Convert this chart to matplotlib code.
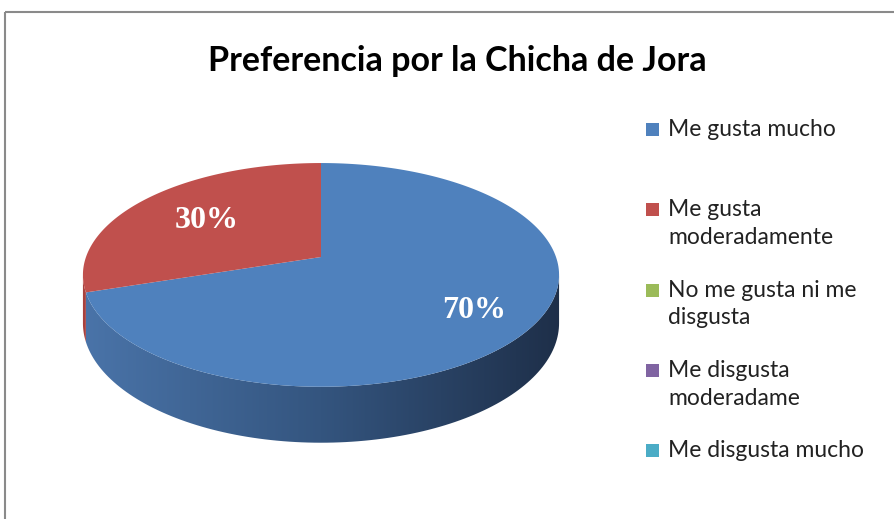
import numpy as np
import matplotlib
matplotlib.use('Agg')
from matplotlib import pyplot as plt
from matplotlib.patches import Polygon, Rectangle
from matplotlib.colors import LinearSegmentedColormap

title = 'Preferencia por la Chicha de Jora'
categories = ['Me gusta mucho', 'Me gusta moderadamente',
              'No me gusta ni me disgusta', 'Me disgusta moderadame',
              'Me disgusta mucho']
legend_labels = ['Me gusta mucho', 'Me gusta\nmoderadamente',
                 'No me gusta ni me\ndisgusta', 'Me disgusta\nmoderadame',
                 'Me disgusta mucho']
values = [70, 30, 0, 0, 0]
pct_labels = ['70%', '30%', '0%', '0%', '0%']
colors = ['#4F81BD', '#C0504D', '#9BBB59', '#8064A2', '#4BACC6']

# pie geometry (pixels), simple perspective tilt
CX, CY = 321, 257
RX, RY = 235, 109
K = 0.16
DEPTH = 47
LABEL_R = [0.75, 0.64, 0.7, 0.7, 0.7]


def project(t, r=1.0, drop=0.0):
    u = r * np.cos(t)
    v = r * np.sin(t)
    w = 1 + K * v
    return CX + RX * u / w, CY - RY * v / w + drop * DEPTH / w


def main():
    fig = plt.figure(figsize=(8.95, 5.19), dpi=100)
    ax = fig.add_axes([0, 0, 1, 1])
    ax.set_xlim(0, 895)
    ax.set_ylim(519, 0)
    ax.axis('off')

    ax.add_patch(Rectangle((5, 12), 900, 520, fill=False,
                           ec='#8a8a8a', lw=1.5))

    total = float(sum(values))
    starts, ends = [], []
    a = 90.0
    for v in values:
        starts.append(a)
        a -= 360.0 * v / total
        ends.append(a)

    side_cmap = LinearSegmentedColormap.from_list(
        'side', ['#4a74a9', '#34557f', '#1e2f49'])
    side_red = '#a8413e'
    vis_lo = -180 + np.degrees(np.arcsin(K))
    vis_hi = -np.degrees(np.arcsin(K))

    # sides first
    for i, v in enumerate(values):
        if v <= 0:
            continue
        lo = max(ends[i], vis_lo)
        hi = min(starts[i], vis_hi)
        if hi <= lo:
            continue
        t = np.radians(np.linspace(lo, hi, 120))
        xt, yt = project(t)
        xb, yb = project(t[::-1], drop=1.0)
        pts = np.column_stack([np.r_[xt, xb], np.r_[yt, yb]])
        if i == 0:
            poly = Polygon(pts, closed=True, fc='none', ec='none')
            ax.add_patch(poly)
            grad = np.linspace(0, 1, 256).reshape(1, -1)
            im = ax.imshow(grad, cmap=side_cmap, aspect='auto',
                           extent=(CX - RX - 5, CX + RX + 5, 460, 240),
                           zorder=1)
            im.set_clip_path(poly)
        else:
            ax.add_patch(Polygon(pts, closed=True, fc=side_red,
                                 ec='none', zorder=1))

    # top faces
    for i, v in enumerate(values):
        if v <= 0:
            continue
        t = np.radians(np.linspace(starts[i], ends[i], 200))
        xs, ys = project(t)
        pts = np.column_stack([np.r_[CX, xs], np.r_[CY, ys]])
        ax.add_patch(Polygon(pts, closed=True, fc=colors[i], ec='none',
                             zorder=2))
        mid = np.radians((starts[i] + ends[i]) / 2)
        lx, ly = project(mid, r=LABEL_R[i])
        ax.text(lx, ly + 2, pct_labels[i], color='white', fontsize=23,
                fontweight='bold', family='Liberation Serif',
                ha='center', va='center', zorder=3)

    ax.text(457, 61, title, fontsize=24.5, fontweight='bold', family='Lato',
            ha='center', va='center', color='black')

    for i, lab in enumerate(legend_labels):
        y0 = 122 + 80.3 * i
        ax.add_patch(Rectangle((646, y0 + 1), 13, 13, fc=colors[i],
                               ec='none'))
        ax.text(668, y0 - 3, lab, fontsize=16.5, family='Lato',
                color='#222222', ha='left', va='top', linespacing=1.4)

    fig.savefig('out.png', dpi=100)


if __name__ == '__main__':
    main()
